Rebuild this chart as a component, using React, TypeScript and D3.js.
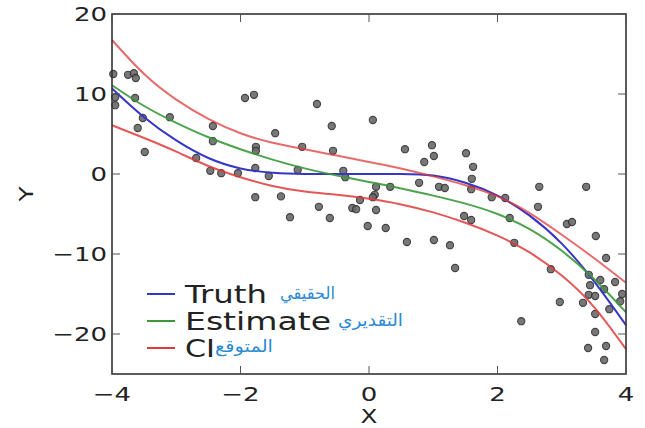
import React from 'react';
import * as d3 from 'd3';

// curve samples at x = -4 .. 4, step 0.5
const xs = [-4, -3.5, -3, -2.5, -2, -1.5, -1, -0.5, 0, 0.5, 1, 1.5, 2, 2.5, 3, 3.5, 4];
const truth = [10.7, 7.1, 4.2, 2.0, 0.7, 0.15, 0, 0, 0, 0, -0.2, -1.1, -2.7, -5.2, -8.7, -13.4, -18.9];
const estimate = [11.1, 8.5, 6.4, 4.6, 3.1, 1.8, 0.7, -0.2, -1.0, -1.8, -2.7, -3.7, -5.0, -6.9, -9.6, -13.1, -17.3];
const ciUpper = [16.75, 12.5, 9.3, 6.9, 5.1, 3.9, 3.1, 2.3, 1.5, 0.7, -0.3, -1.4, -2.8, -4.9, -7.6, -10.5, -13.6];
const ciLower = [6.1, 4.5, 2.8, 1.0, -0.4, -1.5, -2.2, -2.6, -3.1, -3.8, -4.8, -6.1, -7.7, -9.8, -12.7, -16.6, -21.9];

// observed points
const obsX = [-3.98, -3.75, -3.66, -3.63, -3.95, -3.95, -3.64, -3.52, -3.6, -3.49, -3.1, -2.43, -2.43, -2.69, -2.47, -2.3, -2.04,
  -1.93, -1.79, -1.46, -1.76, -1.76, -1.77, -1.56, -1.77, -1.37, -0.81, -0.58, 0.06, -1.04, -0.56, -1.11, -0.4, -0.37,
  0.56, 0.98, 1.01, 0.86, 0.78, 0.11, 0.33, 0.09, 1.09, 1.18, 1.51, 1.62, 1.6, 1.59, 1.91, 2.65, 3.38,
  -1.23, -0.78, -0.61, -0.26, -0.2, -0.14, 0.06, 0.11, -0.02, 0.26, 0.59, 1.01, 1.26, 1.34,
  2.12, 2.63, 1.48, 1.59, 2.19, 2.26, 3.08, 3.16, 3.53, 3.69, 2.83, 3.42, 3.6, 3.44, 3.66, 3.83, 3.94, 3.42, 3.52,
  3.91, 2.97, 3.33, 3.74, 3.52, 2.37, 3.52, 3.41, 3.69, 3.66];
const obsY = [12.5, 12.4, 12.6, 12.0, 9.6, 8.6, 9.5, 7.0, 5.75, 2.75, 7.1, 6.0, 4.1, 2.0, 0.4, 0.1, 0.1,
  9.5, 9.9, 5.1, 3.4, 2.9, 0.75, -0.25, -2.9, -2.8, 8.75, 6.0, 6.75, 3.4, 2.9, 0.5, 0.4, -0.4,
  3.1, 3.6, 2.25, 1.5, -1.1, -1.6, -1.6, -2.6, -1.6, -1.75, 2.6, 0.9, -0.6, -1.9, -2.9, -1.6, -1.6,
  -5.4, -4.1, -5.5, -4.25, -4.4, -3.25, -2.9, -4.5, -6.5, -6.75, -8.5, -8.25, -8.9, -11.75,
  -3.0, -4.1, -5.25, -5.75, -5.5, -8.6, -6.25, -6.0, -7.75, -10.5, -11.9, -12.6, -13.25, -13.9, -14.4, -13.5, -15.0, -15.1, -15.25,
  -15.9, -16.0, -16.1, -16.9, -17.5, -18.4, -19.75, -21.75, -21.5, -23.25];

const xTicks = [-4, -2, 0, 2, 4];
const yTicks = [-20, -10, 0, 10, 20];
const legendItems = [
  { label: 'Truth', arabic: 'الحقيقي', color: '#3535c8' },
  { label: 'Estimate', arabic: 'التقديري', color: '#3a993a' },
  { label: 'CI', arabic: 'المتوقع', color: '#e03a3a' },
];

const fmt = (v: number) => (v < 0 ? '\u2212' + Math.abs(v) : String(v));

export default function App() {
  const width = 645;
  const height = 428;
  const margin = { top: 14, right: 19, bottom: 54, left: 112 };

  const x = d3.scaleLinear().domain([-4, 4]).range([margin.left, width - margin.right]);
  const y = d3.scaleLinear().domain([-25, 20]).range([height - margin.bottom, margin.top]);

  const line = d3.line<number>()
    .x((_, i) => x(xs[i]))
    .y(d => y(d))
    .curve(d3.curveNatural);

  const x0 = x.range()[0], x1 = x.range()[1];
  const y0 = y.range()[0], y1 = y.range()[1];
  const tick = 8;
  const font = 'DejaVu Sans, sans-serif';

  // legend layout
  const arabicBox = [
    { right: 335, base: 299, len: 55 },
    { right: 403, base: 326, len: 65 },
    { right: 273, base: 352, len: 58 },
  ];
  const labelLen = [82, 146, 30];

  return (
    <svg width={width} height={height} style={{ position: 'absolute', left: 0, top: 0, background: '#fff' }}>
      {/* points */}
      <g>
        {obsX.map((d, i) => (
          <circle key={i} cx={x(d)} cy={y(obsY[i])} r={3.6} fill="#6a6a6a" stroke="#2e2e2e" strokeWidth={1.1} opacity={0.9} />
        ))}
      </g>

      {/* curves */}
      <path d={line(truth) || ''} fill="none" stroke="#3535c8" strokeWidth={2} />
      <path d={line(estimate) || ''} fill="none" stroke="#3a993a" strokeWidth={2} opacity={0.9} />
      <path d={line(ciUpper) || ''} fill="none" stroke="#e03a3a" strokeWidth={2} opacity={0.75} />
      <path d={line(ciLower) || ''} fill="none" stroke="#e03a3a" strokeWidth={2} opacity={0.85} />

      {/* frame */}
      <rect x={x0} y={y1} width={x1 - x0} height={y0 - y1} fill="none" stroke="#333" strokeWidth={1.6} />

      {/* ticks */}
      {xTicks.map(t => (
        <g key={'x' + t}>
          <line x1={x(t)} x2={x(t)} y1={y0} y2={y0 - tick} stroke="#555" strokeWidth={1} />
          <line x1={x(t)} x2={x(t)} y1={y1} y2={y1 + tick} stroke="#555" strokeWidth={1} />
          <text transform={`translate(${x(t)},${y0 + 27}) scale(1.3,1)`} textAnchor="middle"
            fontFamily={font} fontSize={20} fill="#222">{fmt(t)}</text>
        </g>
      ))}
      {yTicks.map(t => (
        <g key={'y' + t}>
          <line x1={x0} x2={x0 + tick} y1={y(t)} y2={y(t)} stroke="#555" strokeWidth={1} />
          <line x1={x1} x2={x1 - tick} y1={y(t)} y2={y(t)} stroke="#555" strokeWidth={1} />
          <text transform={`translate(${x0 - 5},${y(t) + 7}) scale(1.3,1)`} textAnchor="end"
            fontFamily={font} fontSize={20} fill="#222">{fmt(t)}</text>
        </g>
      ))}

      {/* axis labels */}
      <text transform={`translate(${(x0 + x1) / 2},${height - 5}) scale(1.3,1)`} textAnchor="middle"
        fontFamily={font} fontSize={19} fill="#222">X</text>
      <text transform={`translate(33,${(y0 + y1) / 2}) rotate(-90) scale(1.3,1)`} textAnchor="middle"
        fontFamily={font} fontSize={19} fill="#222">Y</text>

      {/* legend */}
      <g>
        {legendItems.map((d, i) => {
          const ly = 294 + i * 27;
          const ab = arabicBox[i];
          return (
            <g key={d.label}>
              <line x1={147} x2={175} y1={ly} y2={ly} stroke={d.color} strokeWidth={2} />
              <text x={185} y={ly + 9} fontFamily={font} fontSize={25} fill="#222"
                textLength={labelLen[i]} lengthAdjust="spacingAndGlyphs">{d.label}</text>
              <text x={ab.right - ab.len} y={ab.base} fontFamily={font} fontSize={17} fill="#2a8ad4"
                textLength={ab.len} lengthAdjust="spacingAndGlyphs">{d.arabic}</text>
            </g>
          );
        })}
      </g>
    </svg>
  );
}
